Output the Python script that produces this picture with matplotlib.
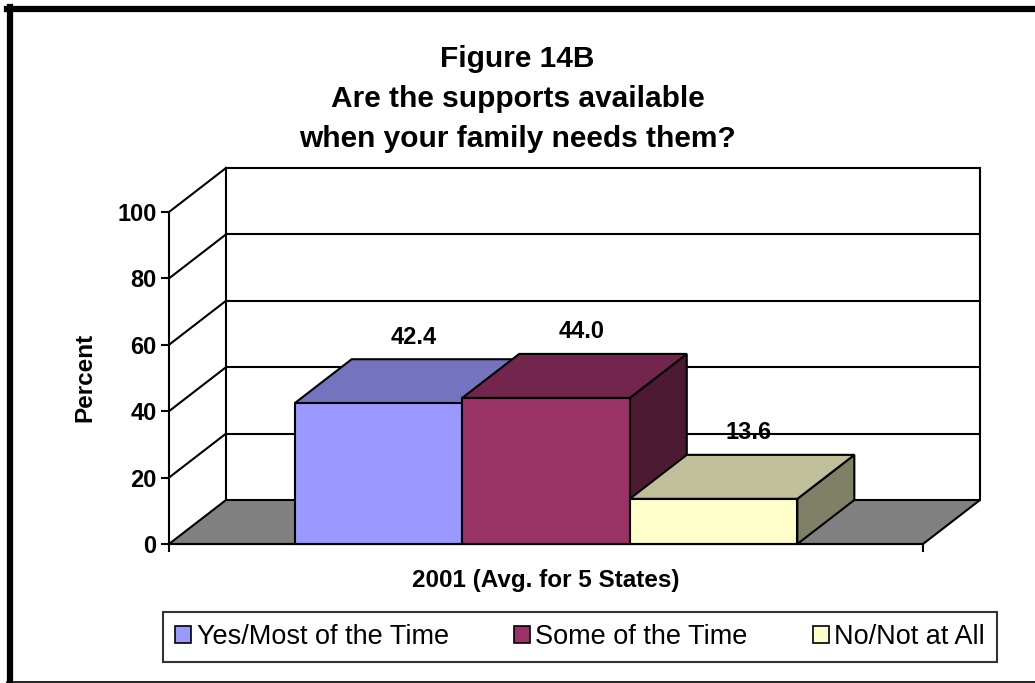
import numpy as np
import matplotlib
matplotlib.use('Agg')
import matplotlib.pyplot as plt
from matplotlib.patches import Polygon, Patch
from matplotlib.lines import Line2D

plt.rcParams['font.family'] = ['Liberation Sans', 'DejaVu Sans']

# data
title_lines = ['Figure 14B', 'Are the supports available', 'when your family needs them?']
category = '2001 (Avg. for 5 States)'
series = ['Yes/Most of the Time', 'Some of the Time', 'No/Not at All']
values = [42.4, 44.0, 13.6]
front_colors = ['#9999FF', '#993366', '#FFFFCC']
y_ticks = [0, 20, 40, 60, 80, 100]

W, H = 1035, 683
fig = plt.figure(figsize=(W / 100, H / 100), dpi=100)

# front plane of the 3d box in pixels, plus the depth shift
x_left, x_right = 169, 923
y_zero, y_top = 544, 212
depth_px = (57, 44)
px_per_unit = (y_zero - y_top) / 100.0
DX = depth_px[0] / (x_right - x_left)
DY = depth_px[1] / px_per_unit

ax = fig.add_axes([x_left / W, 1 - y_zero / H,
                   (x_right - x_left + depth_px[0]) / W,
                   (y_zero - y_top + depth_px[1]) / H])
ax.set_xlim(0, 1 + DX)
ax.set_ylim(0, 100 + DY)
ax.patch.set_alpha(0)


def proj(x, y, z):
    return (x + z * DX, y + z * DY)


def face(pts, color, zo):
    ax.add_patch(Polygon([proj(*p) for p in pts], closed=True, facecolor=color,
                         edgecolor='black', linewidth=1.5, zorder=zo,
                         clip_on=False, joinstyle='miter'))


def shade(c, f):
    r, g, b = matplotlib.colors.to_rgb(c)
    return (r * f, g * f, b * f)


lw = 1.5
# gridlines on back wall and left side wall
for t in y_ticks[1:]:
    ax.plot(*zip(proj(0, t, 1), proj(1, t, 1)), color='black', lw=lw, zorder=1,
            clip_on=False)
    ax.plot(*zip(proj(0, t, 0), proj(0, t, 1)), color='black', lw=lw, zorder=1,
            clip_on=False)
ax.plot(*zip(proj(0, 0, 1), proj(0, 100, 1)), color='black', lw=lw, zorder=1, clip_on=False)
ax.plot(*zip(proj(1, 0, 1), proj(1, 100, 1)), color='black', lw=lw, zorder=1, clip_on=False)

# floor
face([(0, 0, 0), (1, 0, 0), (1, 0, 1), (0, 0, 1)], '#808080', 1.5)

# bars, gap width 150%
n = len(values)
bw = 1.0 / (n + 1.5)
x_start = 0.75 * bw
for i, (v, c) in enumerate(zip(values, front_colors)):
    x0 = x_start + i * bw
    x1 = x0 + bw
    zo = 2 + i
    face([(x1, 0, 0), (x1, v, 0), (x1, v, 1), (x1, 0, 1)], shade(c, 0.5), zo)
    face([(x0, v, 0), (x1, v, 0), (x1, v, 1), (x0, v, 1)], shade(c, 0.75), zo)
    face([(x0, 0, 0), (x1, 0, 0), (x1, v, 0), (x0, v, 0)], c, zo)
    # value label sits above the back edge of the bar top
    lx, ly = (x0 + x1) / 2 + 0.62 * DX, v + DY
    ax.annotate(f'{v:.1f}', xy=(lx, ly), xytext=(0, 16), textcoords='offset points',
                ha='center', va='center', fontsize=17, fontweight='bold', zorder=10)

# axes lines and ticks
for s in ['top', 'right']:
    ax.spines[s].set_visible(False)
ax.spines['left'].set_bounds(0, 100)
ax.spines['bottom'].set_bounds(0, 1)
for s in ['left', 'bottom']:
    ax.spines[s].set_linewidth(lw)
    ax.spines[s].set_zorder(6)
ax.set_yticks(y_ticks)
ax.set_yticklabels([str(t) for t in y_ticks], fontsize=17, fontweight='bold')
ax.tick_params(axis='y', direction='out', length=6, width=lw, pad=3)
ax.set_xticks([0.5])
ax.set_xticklabels([category], fontsize=17.5, fontweight='bold')
ax.tick_params(axis='x', which='major', length=0, pad=18)
ax.set_xticks([0, 1], minor=True)
ax.tick_params(axis='x', which='minor', direction='out', length=6, width=lw)

ax.set_ylabel('Percent', fontsize=17.5, fontweight='bold')
ax.yaxis.set_label_coords((96 - x_left) / (x_right - x_left + depth_px[0]),
                          (y_zero - 377) / (y_zero - y_top + depth_px[1]))

# title
fig.text(0.5, 1 - 99 / H, '\n'.join(title_lines), ha='center', va='center',
         fontsize=21.5, fontweight='bold', linespacing=1.55)

# legend
handles = [Patch(facecolor=c, edgecolor='black', linewidth=1.2) for c in front_colors]
leg = fig.legend(handles, series, loc='center', ncol=3,
                 bbox_to_anchor=(580 / W, 1 - 637 / H), fontsize=19.5,
                 frameon=True, fancybox=False, edgecolor='black',
                 handlelength=0.6, handleheight=0.6, handletextpad=0.2,
                 columnspacing=2.4, borderpad=0.45)
leg.get_frame().set_linewidth(lw)

# outer border of the chart area
fig.add_artist(Line2D([7 / W, 1], [1 - 9 / H, 1 - 9 / H], color='black', lw=4.5,
                      transform=fig.transFigure))
fig.add_artist(Line2D([10 / W, 10 / W], [1 - 7 / H, 1 - 682 / H], color='black', lw=4.5,
                      transform=fig.transFigure))
fig.add_artist(Line2D([7 / W, 1], [1 - 682 / H, 1 - 682 / H], color='black', lw=1.2,
                      transform=fig.transFigure))

fig.savefig('out.png', dpi=100)
